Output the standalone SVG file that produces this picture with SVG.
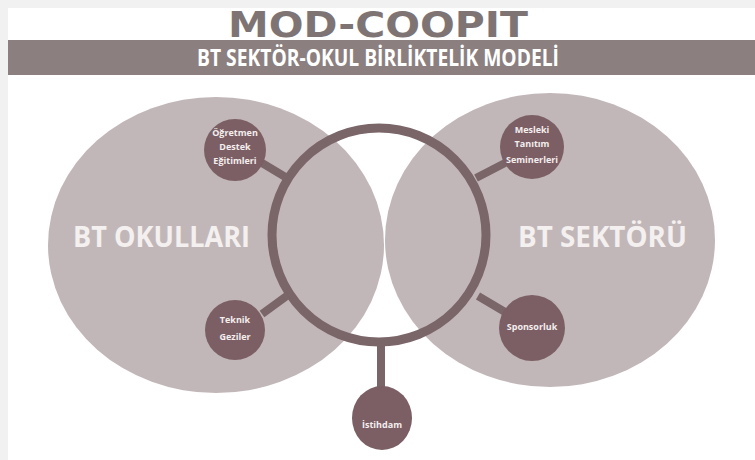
<svg xmlns="http://www.w3.org/2000/svg" width="755" height="460" viewBox="0 0 755 460">
<style>
.big{fill:#c2b7b8}
.node{fill:#7b5f64}
.ring{fill:none;stroke:#7a6569;stroke-width:9}
.conn{stroke:#7a6569;stroke-width:8;fill:none}
.lbl{font-family:"Open Sans","DejaVu Sans",sans-serif;font-weight:bold;fill:#f4f0f0;text-anchor:middle}
.sm{font-family:"Open Sans","DejaVu Sans",sans-serif;font-weight:bold;fill:#f4eeee;text-anchor:middle;font-size:9px}
</style>
<rect x="0" y="0" width="755" height="460" fill="#f1f1f1"/>
<rect x="8" y="8" width="747" height="452" fill="#ffffff"/>
<g id="header">
<text x="378" y="37" font-family="'DejaVu Sans',sans-serif" font-weight="bold" font-size="36" fill="#7e7474" text-anchor="middle" textLength="300" lengthAdjust="spacingAndGlyphs">MOD-COOPIT</text>
<rect x="8" y="40" width="747" height="35" fill="#8b7f80"/>
<text x="378" y="66" font-family="'Open Sans',sans-serif" font-weight="bold" font-size="23" fill="#ffffff" text-anchor="middle" textLength="362" lengthAdjust="spacingAndGlyphs">BT SEKTÖR-OKUL BİRLİKTELİK MODELİ</text>
</g>
<g id="bt-okullari">
<ellipse class="big" cx="216" cy="245" rx="168" ry="148"/>
<text class="lbl" x="161.5" y="247" font-size="28" textLength="177" lengthAdjust="spacingAndGlyphs">BT OKULLARI</text>
</g>
<g id="bt-sektoru">
<ellipse class="big" cx="550" cy="240" rx="165" ry="147"/>
<text class="lbl" x="602.5" y="247" font-size="28" textLength="169" lengthAdjust="spacingAndGlyphs">BT SEKTÖRÜ</text>
</g>
<g id="connectors">
<circle class="ring" cx="379" cy="235" r="107"/>
<line class="conn" x1="262" y1="163" x2="287" y2="178"/>
<line class="conn" x1="262" y1="314" x2="288" y2="295"/>
<line class="conn" x1="505" y1="163" x2="476" y2="178"/>
<line class="conn" x1="505" y1="312" x2="478" y2="296"/>
<line class="conn" x1="381" y1="340" x2="381" y2="392"/>
</g>
<g id="ogretmen">
<circle class="node" cx="235" cy="150" r="31"/>
<text class="sm" x="235" y="136">Öğretmen</text>
<text class="sm" x="235" y="150">Destek</text>
<text class="sm" x="235" y="164">Eğitimleri</text>
</g>
<g id="teknik">
<circle class="node" cx="235" cy="330" r="30"/>
<text class="sm" x="235" y="323">Teknik</text>
<text class="sm" x="235" y="340">Geziler</text>
</g>
<g id="mesleki">
<circle class="node" cx="532" cy="147" r="32"/>
<text class="sm" x="532" y="133">Mesleki</text>
<text class="sm" x="532" y="147">Tanıtım</text>
<text class="sm" x="532" y="163">Seminerleri</text>
</g>
<g id="sponsorluk">
<circle class="node" cx="532" cy="328" r="33"/>
<text class="sm" x="532" y="330">Sponsorluk</text>
</g>
<g id="istihdam">
<ellipse class="node" cx="382" cy="418" rx="30" ry="32"/>
<text class="sm" x="382" y="428">İstihdam</text>
</g>
</svg>
